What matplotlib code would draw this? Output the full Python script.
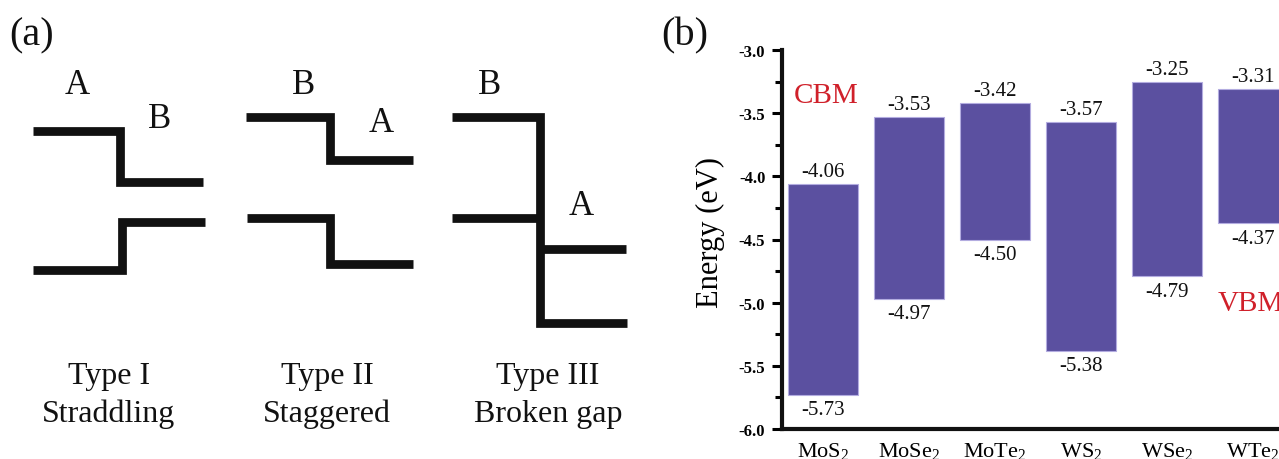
import matplotlib
matplotlib.use("Agg")
import matplotlib.pyplot as plt
import numpy as np

plt.rcParams['font.family'] = ['Liberation Serif', 'DejaVu Serif']
plt.rcParams['mathtext.fontset'] = 'custom'
plt.rcParams['mathtext.rm'] = 'Liberation Serif'
plt.rcParams['mathtext.it'] = 'Liberation Serif:italic'
plt.rcParams['mathtext.bf'] = 'Liberation Serif:bold'

# ---------------- data ----------------
materials = ['MoS$_2$', 'MoSe$_2$', 'MoTe$_2$', 'WS$_2$', 'WSe$_2$', 'WTe$_2$']
cbm = [-4.06, -3.53, -3.42, -3.57, -3.25, -3.31]
vbm = [-5.73, -4.97, -4.50, -5.38, -4.79, -4.37]
yticks = [-3.0, -3.5, -4.0, -4.5, -5.0, -5.5, -6.0]

# schematic (panel a), in panel pixel units
type_line1 = ['Type I', 'Type II', 'Type III']
type_line2 = ['Straddling', 'Staggered', 'Broken gap']
type_centers = [109, 327, 548]
band_lines = [
    ([33, 120, 120, 203], [132, 132, 183, 183]),
    ([33, 122, 122, 205], [271, 271, 223, 223]),
    ([246, 330, 330, 413], [118, 118, 161, 161]),
    ([247, 330, 330, 413], [218.5, 218.5, 264.5, 264.5]),
    ([452, 540, 540, 627], [118, 118, 324, 324]),
    ([452, 540], [218.5, 218.5]),
    ([540, 626], [249.5, 249.5]),
]
letters = ['A', 'B', 'B', 'A', 'B', 'A']
letter_x = [77, 160, 304, 381, 490, 581]
letter_y = [85, 119, 86, 123, 86, 207]

fig = plt.figure(figsize=(12.79, 4.60), dpi=100)

# ---------------- panel (a) ----------------
axa = fig.add_axes([0, 0, 650 / 1279, 1])
axa.set_xlim(0, 650)
axa.set_ylim(460, 0)
axa.axis('off')
for xs, ys in band_lines:
    axa.plot(xs, ys, color='#111111', lw=6.3, solid_joinstyle='miter',
             solid_capstyle='butt')
for t, x, y in zip(letters, letter_x, letter_y):
    axa.text(x, y, t, fontsize=25, ha='center', va='center', color='#111111')
for l1, l2, cx in zip(type_line1, type_line2, type_centers):
    axa.text(cx, 384, l1, fontsize=23, ha='center', va='baseline', color='#111111')
    axa.text(cx, 422, l2, fontsize=23, ha='center', va='baseline', color='#111111')
axa.text(9, 36, '(a)', fontsize=29, ha='left', va='center', color='#111111')

# ---------------- panel (b) ----------------
fig.text(661 / 1279, 1 - 36 / 460, '(b)', fontsize=29, ha='left', va='center',
         color='#111111')

ax = fig.add_axes([782 / 1279, 30 / 460, 1 - 782 / 1279, (430 - 51) / 460])
x = np.arange(len(materials))
cbm_a = np.array(cbm)
vbm_a = np.array(vbm)
ax.bar(x, cbm_a - vbm_a, bottom=vbm_a, width=0.81, color='#5B50A0',
       edgecolor='#B3ACE0', linewidth=0.8)
for xi, c, v in zip(x, cbm, vbm):
    ax.annotate(f'{c:.2f}', (xi, c), xytext=(0, 2), textcoords='offset points',
                ha='center', va='bottom', fontsize=15, color='#111111')
    ax.annotate(f'{v:.2f}', (xi, v), xytext=(0, -4), textcoords='offset points',
                ha='center', va='top', fontsize=15, color='#111111')

ax.set_xlim(-0.475, 5.3)
ax.set_ylim(-6.0, -3.0)
ax.set_yticks(yticks)
ax.set_yticklabels([f'{t:.1f}' for t in yticks], fontweight='bold', fontsize=12)
ax.set_yticks(np.arange(-6.0, -2.99, 0.25), minor=True)
ax.tick_params(axis='y', which='major', length=7, width=2.2, direction='out', pad=5)
ax.tick_params(axis='y', which='minor', length=5, width=2.2, direction='out')
ax.set_xticks(x)
ax.set_xticklabels(materials, fontsize=16)
ax.tick_params(axis='x', length=0, pad=8)
for s in ['top', 'right']:
    ax.spines[s].set_visible(False)
for s in ['left', 'bottom']:
    ax.spines[s].set_linewidth(3.0)
    ax.spines[s].set_color('#111111')
ax.set_ylabel('Energy (eV)', fontsize=22)
ax.yaxis.set_label_coords(-0.115, 0.522)

ax.text(0.035, -3.355, 'CBM', fontsize=21, color='#D0202A', ha='center', va='center')
ax.text(4.593, -5.003, 'VBM', fontsize=21, color='#D0202A', ha='left', va='center',
        clip_on=True)

fig.savefig('out.png', dpi=100)
